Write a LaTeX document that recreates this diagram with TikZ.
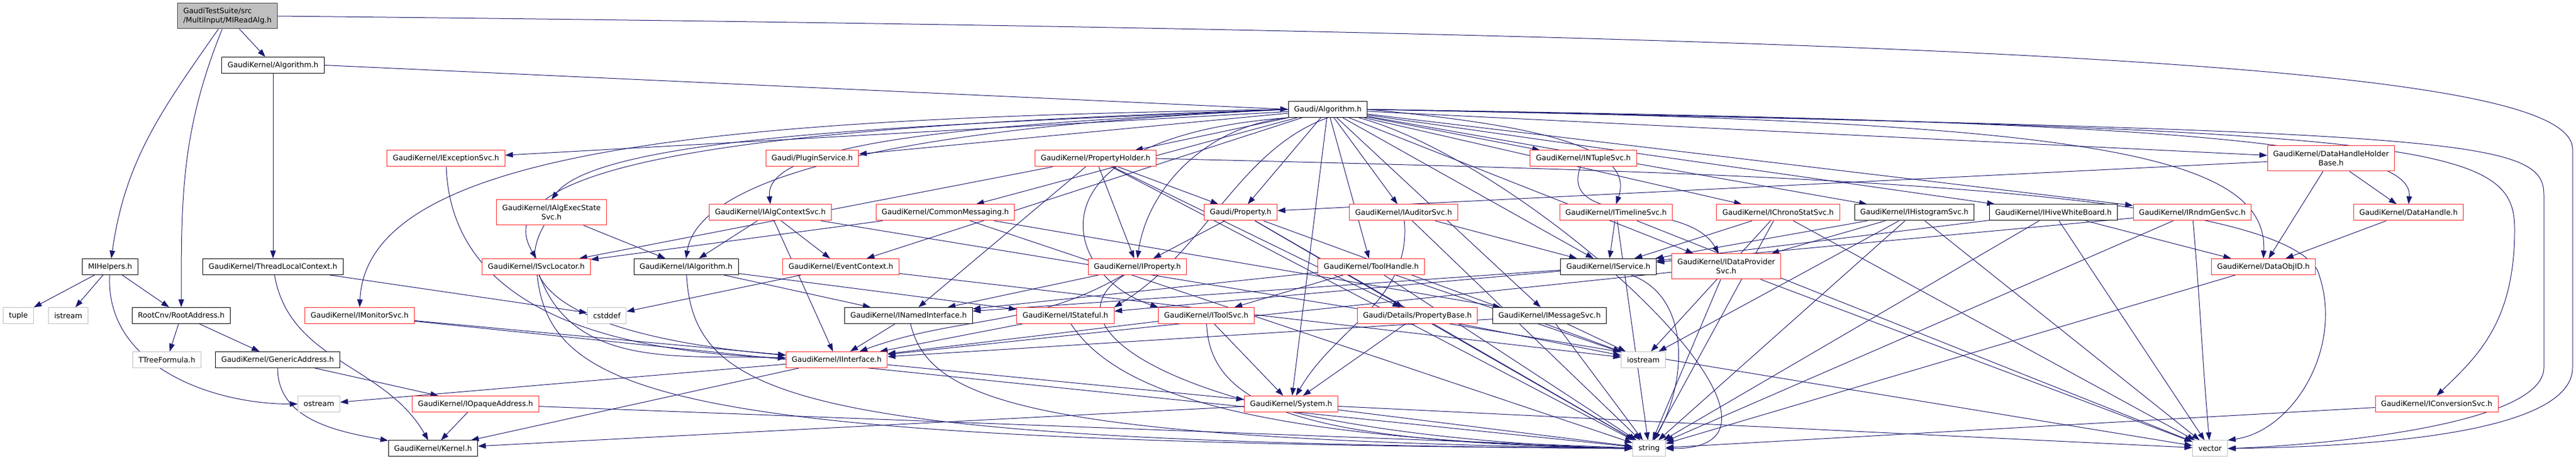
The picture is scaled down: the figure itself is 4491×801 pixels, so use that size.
\documentclass[tikz,border=0pt]{standalone}
\usepackage{fontspec}
\setsansfont{DejaVu Sans}
\usetikzlibrary{arrows.meta}
\definecolor{edgeblue}{HTML}{191970}
\definecolor{hdrred}{HTML}{FF2020}
\definecolor{hdrgray}{HTML}{BFBFBF}
\definecolor{hdrdark}{HTML}{404040}
\pgfdeclarelayer{background}
\pgfsetlayers{background,main}

\begin{document}
\begin{tikzpicture}[x=0.25pt, y=-0.25pt,
  inc/.style={rectangle, draw=black, fill=white, line width=0.25pt, inner xsep=2.5pt, inner ysep=0pt, minimum height=7pt, font=\sffamily\fontsize{3.225}{4}\selectfont},
  incred/.style={inc, draw=hdrred},
  incsys/.style={inc, draw=hdrgray},
  incmain/.style={inc, draw=hdrdark, fill=hdrgray, minimum height=11pt, align=left},
  dep/.style={draw=edgeblue, line width=0.25pt, -{Triangle[length=3.4pt,width=2.4pt]}}]
\useasboundingbox (0,0) rectangle (4491,801);

\node[incmain] (readalg) at (396.5,28) {GaudiTestSuite/src\\/MultiInput/MIReadAlg.h};
\node[inc] (algo) at (476,113.5) {GaudiKernel/Algorithm.h};
\node[inc] (galgo) at (2315,190.5) {Gaudi/Algorithm.h};

\node[incred] (excsvc) at (777.5,276) {GaudiKernel/IExceptionSvc.h};
\node[incred] (plugin) at (1416,276) {Gaudi/PluginService.h};
\node[incred] (propholder) at (1910,276) {GaudiKernel/PropertyHolder.h};
\node[incred] (ntuple) at (2760.5,276) {GaudiKernel/INTupleSvc.h};
\node[incred, minimum height=11pt, align=center] (dhhb) at (4064,276) {GaudiKernel/DataHandleHolder\\Base.h};

\node[incred, minimum height=11pt, align=center] (execstate) at (961.5,370) {GaudiKernel/IAlgExecState\\Svc.h};
\node[incred] (ctxsvc) at (1343,370) {GaudiKernel/IAlgContextSvc.h};
\node[incred] (commsg) at (1648,370) {GaudiKernel/CommonMessaging.h};
\node[incred] (prop) at (2163,370) {Gaudi/Property.h};
\node[incred] (auditor) at (2447,370) {GaudiKernel/IAuditorSvc.h};
\node[incred] (timeline) at (2817.5,370) {GaudiKernel/ITimelineSvc.h};
\node[incred] (chrono) at (3100,370) {GaudiKernel/IChronoStatSvc.h};
\node[inc] (histo) at (3337.5,370) {GaudiKernel/IHistogramSvc.h};
\node[inc] (hive) at (3580,370) {GaudiKernel/IHiveWhiteBoard.h};
\node[incred] (rndm) at (3822,370) {GaudiKernel/IRndmGenSvc.h};
\node[incred] (dhandle) at (4199,370) {GaudiKernel/DataHandle.h};

\node[inc] (mihelpers) at (192,464.5) {MIHelpers.h};
\node[inc] (tlc) at (476,464.5) {GaudiKernel/ThreadLocalContext.h};
\node[incred] (svcloc) at (935,464.5) {GaudiKernel/ISvcLocator.h};
\node[inc] (ialg) at (1196,464.5) {GaudiKernel/IAlgorithm.h};
\node[incred] (evtctx) at (1466,464.5) {GaudiKernel/EventContext.h};
\node[incred] (iprop) at (1983,464.5) {GaudiKernel/IProperty.h};
\node[incred] (toolhandle) at (2390.7,464.5) {GaudiKernel/ToolHandle.h};
\node[inc] (iservice) at (2804,464.5) {GaudiKernel/IService.h};
\node[incred, minimum height=11pt, align=center] (dataprov) at (3009.5,464) {GaudiKernel/IDataProvider\\Svc.h};
\node[incred] (dataobjid) at (3946,464.5) {GaudiKernel/DataObjID.h};

\node[incsys] (tuple) at (32,549.5) {tuple};
\node[incsys] (istream) at (119,549.5) {istream};
\node[inc] (rootaddr) at (316,549.5) {RootCnv/RootAddress.h};
\node[incred] (monitor) at (627,549.5) {GaudiKernel/IMonitorSvc.h};
\node[incsys] (cstddef) at (1058,549.5) {cstddef};
\node[inc] (named) at (1584,549.5) {GaudiKernel/INamedInterface.h};
\node[incred] (stateful) at (1857.5,549.5) {GaudiKernel/IStateful.h};
\node[incred] (toolsvc) at (2103,549.5) {GaudiKernel/IToolSvc.h};
\node[incred] (propbase) at (2471,549.5) {Gaudi/Details/PropertyBase.h};
\node[inc] (msgsvc) at (2701.5,549.5) {GaudiKernel/IMessageSvc.h};

\node[incsys] (ttree) at (291,626.5) {TTreeFormula.h};
\node[inc] (genaddr) at (484,626.5) {GaudiKernel/GenericAddress.h};
\node[incred] (iface) at (1458.7,626.5) {GaudiKernel/IInterface.h};
\node[incsys] (iostream) at (2865,626.5) {iostream};

\node[incsys] (ostream) at (556,703.5) {ostream};
\node[incred] (opaque) at (829,703.5) {GaudiKernel/IOpaqueAddress.h};
\node[incred] (system) at (2251,703.5) {GaudiKernel/System.h};
\node[incred] (convsvc) at (4248,703.5) {GaudiKernel/IConversionSvc.h};

\node[inc] (kernel) at (755,781) {GaudiKernel/Kernel.h};
\node[incsys] (string) at (2875,781) {string};
\node[incsys] (vector) at (3853,781) {vector};

\begin{pgfonlayer}{background}
\draw[dep] (readalg) -- (algo);
\draw[dep] (readalg) to[out=-125,in=82] (mihelpers);
\draw[dep] (readalg) to[out=-112,in=90] (rootaddr);
\draw[dep] (readalg.east) .. controls (3600,60) and (4485,120) .. (4485,260) -- (4485,640) .. controls (4485,760) and (4100,778) .. (vector.east);
\draw[dep] (algo.east) -- (galgo.west);
\draw[dep] (algo) -- (tlc);
\draw[dep] (tlc) to[out=-80,in=120] (kernel);
\draw[dep] (tlc) -- (cstddef);
\draw[dep] (mihelpers) -- (tuple);
\draw[dep] (mihelpers) -- (istream);
\draw[dep] (mihelpers) -- (rootaddr);
\draw[dep] (mihelpers) to[out=-93,in=180] (ostream);
\draw[dep] (rootaddr) -- (ttree);
\draw[dep] (rootaddr) -- (genaddr);
\draw[dep] (genaddr) to[out=-90,in=170] (kernel);
\draw[dep] (genaddr) -- (opaque);
\draw[dep] (opaque) -- (kernel);
\draw[dep] (opaque) -- (string);
\draw[dep] (monitor) -- (iface);
\draw[dep] (monitor) -- (string);
\draw[dep] (excsvc) to[out=-88,in=178] (iface);
\draw[dep] (execstate) -- (ialg);
\draw[dep] (execstate) to[out=-120,in=175] (iface);
\draw[dep] (ctxsvc) -- (ialg);
\draw[dep] (ctxsvc) -- (evtctx);
\draw[dep] (ctxsvc) -- (iface);
\draw[dep] (ctxsvc) -- (vector);
\draw[dep] (svcloc) to[out=-70,in=178] (iface);
\draw[dep] (svcloc) .. controls (960,700) and (1200,770) .. (string.west);
\draw[dep] (ialg) -- (named);
\draw[dep] (ialg) -- (stateful);
\draw[dep] (ialg) .. controls (1210,700) and (1400,770) .. (string.west);
\draw[dep] (evtctx) -- (cstddef);
\draw[dep] (evtctx) -- (iostream);
\draw[dep] (named) -- (iface);
\draw[dep] (named) .. controls (1620,700) and (1800,765) .. (string.west);
\draw[dep] (stateful) -- (iface);
\draw[dep] (stateful) .. controls (1950,690) and (2200,765) .. (string.west);
\draw[dep] (iprop) to[out=-150,in=20] (iface);
\draw[dep] (iprop) -- (named);
\draw[dep] (iprop) .. controls (1800,580) and (2100,760) .. (string.west);
\draw[dep] (propholder) -- (svcloc);
\draw[dep] (propholder) -- (named);
\draw[dep] (propholder) -- (iprop);
\draw[dep] (propholder) -- (prop);
\draw[dep] (propholder) -- (propbase);
\draw[dep] (propholder) -- (string);
\draw[dep] (propholder.east) .. controls (3000,300) and (3950,320) .. (4040,470) .. controls (4090,600) and (4000,750) .. (vector.north east);
\draw[dep] (commsg) -- (svcloc);
\draw[dep] (commsg) -- (msgsvc);
\draw[dep] (commsg) -- (string);
\draw[dep] (prop) -- (iprop);
\draw[dep] (prop) -- (propbase);
\draw[dep] (prop) -- (string);
\draw[dep] (prop) -- (iostream);
\draw[dep] (propbase) -- (system);
\draw[dep] (propbase) -- (string);
\draw[dep] (propbase) -- (iostream);
\draw[dep] (toolhandle) -- (toolsvc);
\draw[dep] (toolhandle) -- (named);
\draw[dep] (toolhandle) -- (iostream);
\draw[dep] (toolhandle) -- (string);
\draw[dep] (toolsvc) -- (iface);
\draw[dep] (toolsvc) -- (system);
\draw[dep] (toolsvc) .. controls (2110,720) and (2300,770) .. (string.west);
\draw[dep] (iservice) -- (named);
\draw[dep] (iservice) -- (stateful);
\draw[dep] (iservice) to[out=-20,in=60] (string);
\draw[dep] (msgsvc) -- (iface);
\draw[dep] (msgsvc) -- (iostream);
\draw[dep] (msgsvc) -- (string);
\draw[dep] (iface) -- (ostream);
\draw[dep] (iface) -- (kernel);
\draw[dep] (iface) -- (system);
\draw[dep] (system) -- (kernel);
\draw[dep] (system) -- (string);
\draw[dep] (system) -- (vector);
\draw[dep] (auditor) -- (iservice);
\draw[dep] (auditor) to[out=-85,in=60] (system);
\draw[dep] (auditor) -- (string);
\draw[dep] (ntuple) to[out=-110,in=120] (dataprov);
\draw[dep] (timeline) -- (iservice);
\draw[dep] (timeline) -- (vector);
\draw[dep] (timeline) -- (string);
\draw[dep] (chrono) -- (iservice);
\draw[dep] (chrono) -- (iostream);
\draw[dep] (chrono) -- (string);
\draw[dep] (chrono) -- (vector);
\draw[dep] (histo) -- (iservice);
\draw[dep] (histo) -- (dataprov);
\draw[dep] (histo) -- (iostream);
\draw[dep] (histo) -- (string);
\draw[dep] (histo) -- (vector);
\draw[dep] (hive) -- (iservice);
\draw[dep] (hive) -- (dataobjid);
\draw[dep] (hive) -- (string);
\draw[dep] (hive) -- (vector);
\draw[dep] (rndm) -- (iservice);
\draw[dep] (rndm) -- (string);
\draw[dep] (rndm) to[out=-85,in=95] (vector);
\draw[dep] (dataprov) -- (iface);
\draw[dep] (dataprov) -- (string);
\draw[dep] (dataprov) -- (vector);
\draw[dep] (dhhb) -- (prop);
\draw[dep] (dhhb) -- (dhandle);
\draw[dep] (dhhb) -- (dataobjid);
\draw[dep] (dhandle) -- (dataobjid);
\draw[dep] (dataobjid) -- (string);
\draw[dep] (convsvc) -- (string);
\draw[dep] (galgo) -- (excsvc);
\draw[dep] (galgo) -- (plugin);
\draw[dep] (galgo) -- (propholder);
\draw[dep] (galgo) -- (ntuple);
\draw[dep] (galgo) -- (dhhb);
\draw[dep] (galgo.west) .. controls (1700,215) and (1050,230) .. (execstate.north);
\draw[dep] (galgo.west) .. controls (1750,215) and (1330,240) .. (ctxsvc.north);
\draw[dep] (galgo) -- (commsg);
\draw[dep] (galgo) -- (prop);
\draw[dep] (galgo) -- (auditor);
\draw[dep] (galgo.east) .. controls (2700,220) and (2850,260) .. (timeline.north);
\draw[dep] (galgo) -- (chrono);
\draw[dep] (galgo) -- (histo);
\draw[dep] (galgo) -- (hive);
\draw[dep] (galgo) -- (rndm);
\draw[dep] (galgo.east) .. controls (3700,210) and (4210,240) .. (dhandle.north);
\draw[dep] (galgo.west) .. controls (1500,215) and (820,260) .. (svcloc.north);
\draw[dep] (galgo.west) .. controls (1600,220) and (1220,300) .. (ialg.north);
\draw[dep] (galgo) -- (evtctx);
\draw[dep] (galgo.south west) .. controls (2100,220) and (2000,330) .. (iprop.north);
\draw[dep] (galgo) -- (toolhandle);
\draw[dep] (galgo) -- (iservice);
\draw[dep] (galgo) -- (dataprov);
\draw[dep] (galgo.east) .. controls (3600,210) and (3955,260) .. (dataobjid.north);
\draw[dep] (galgo.west) .. controls (1300,205) and (640,250) .. (monitor.north);
\draw[dep] (galgo.south) .. controls (2160,260) and (2100,440) .. (stateful.north east);
\draw[dep] (galgo.south west) .. controls (1780,240) and (1850,480) .. (toolsvc.north west);
\draw[dep] (galgo) -- (msgsvc);
\draw[dep] (galgo) -- (system);
\draw[dep] (galgo.east) .. controls (4250,225) and (4384,250) .. (4384,400) .. controls (4384,560) and (4320,620) .. (convsvc.north);
\draw[dep] (galgo) to[out=-15,in=0] (string);
\draw[dep] (galgo.east) .. controls (4300,230) and (4435,240) .. (4435,340) -- (4435,640) .. controls (4435,740) and (4050,775) .. (vector.east);
\end{pgfonlayer}
\end{tikzpicture}
\end{document}
